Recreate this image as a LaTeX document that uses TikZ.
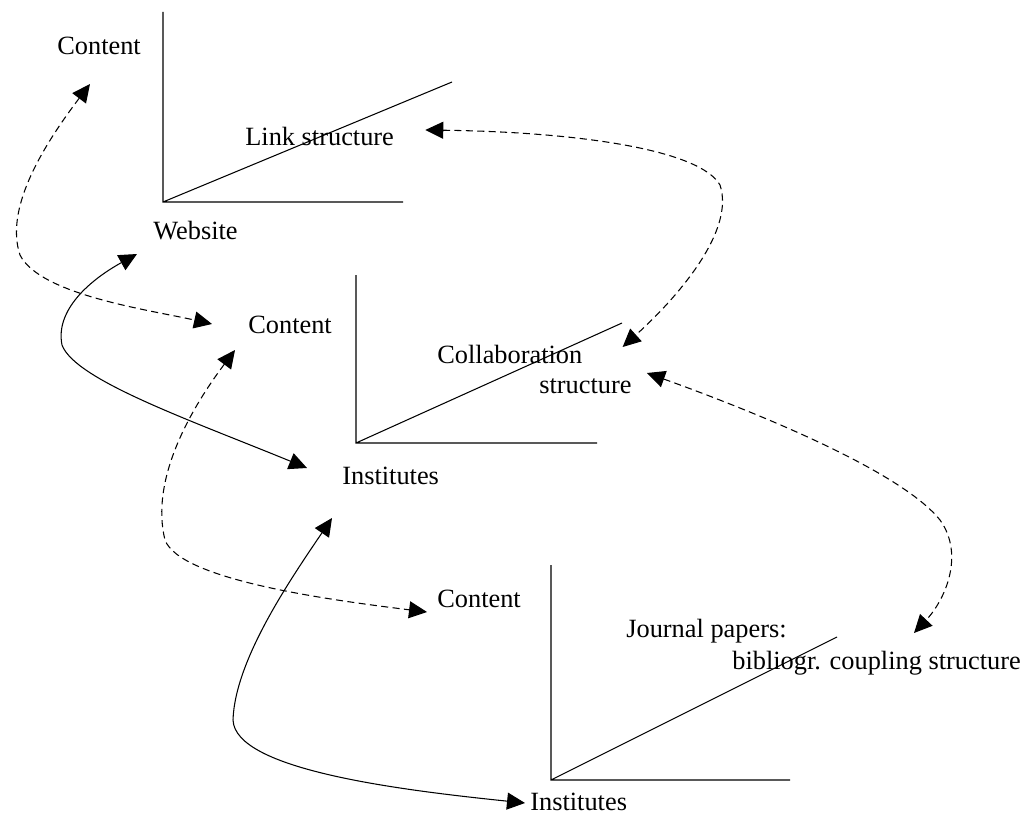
\documentclass[tikz,border=0pt]{standalone}
\usepackage{fontspec}
\setmainfont{Liberation Serif}
\usetikzlibrary{arrows.meta,calc}

\begin{document}
\begin{tikzpicture}[
  x=0.02cm, y=-0.02cm,
  >={Triangle[length=3.6mm,width=3.4mm]},
  lbl/.style={anchor=base west, inner sep=0pt, font=\fontsize{15}{18}\selectfont},
  axis/.style={line width=0.6pt},
  con/.style={<->, line width=0.6pt},
  dcon/.style={con, dash pattern=on 4pt off 2.5pt},
]
\useasboundingbox (0,0) rectangle (1026,814);

% three coordinate frames: origin x/y, top of vertical, end of horizontal, end of diagonal
\foreach \ox/\oy/\top/\right/\dx/\dy in {163/202/12/403/452/82,
                                          356/443/275/597/622/323,
                                          551/780/565/790/837/637}
  \draw[axis] (\ox,\top) -- (\ox,\oy) -- (\right,\oy) (\ox,\oy) -- (\dx,\dy);

\node[lbl] (ctop) at (57,55) {Content};
\node[lbl] (link) at (245,146) {Link structure};
\node[lbl] (web) at (153,239) {Website};
\node[lbl] (cmid) at (248,333) {Content};
\node[lbl] (collab) at (437,363) {Collaboration};
\node[lbl] (struct) at (539,393) {structure};
\node[lbl] (imid) at (342,484) {Institutes};
\node[lbl] (cbot) at (437,607) {Content};
\node[lbl] (journal) at (626,637) {Journal papers:};
\node[lbl] (biblio) at (732,669) {bibliogr. coupling structure};
\node[lbl] (ibot) at (530,810) {Institutes};

\draw[dcon] ($(ctop.base west)+(33,29)$) .. controls (40,150) and (5,210) .. (20,255)
  .. controls (40,295) and (150,310) .. ($(cmid.base west)+(-36,-9)$);
\draw[con] ($(web.base west)+(-16,15)$) .. controls (90,280) and (55,310) .. (62,345)
  .. controls (75,380) and (190,420) .. ($(imid.base west)+(-35,-16)$);
\draw[dcon] ($(link.base east)+(31,-16)$) .. controls (580,132) and (700,150) .. (720,185)
  .. controls (735,230) and (680,295) .. ($(collab.base east)+(40,-16)$);
\draw[dcon] ($(cmid.base west)+(-13,17)$) .. controls (190,410) and (150,480) .. (165,540)
  .. controls (180,580) and (330,600) .. ($(cbot.base west)+(-10,5)$);
\draw[dcon] ($(struct.base east)+(15,-20)$) .. controls (750,410) and (900,470) .. (940,520)
  .. controls (965,555) and (945,600) .. ($(journal.base east)+(127,-4)$);
\draw[con] ($(imid.base west)+(-10,34)$) .. controls (290,580) and (235,660) .. (233,720)
  .. controls (235,770) and (400,790) .. ($(ibot.base west)+(-5,-7)$);
\end{tikzpicture}
\end{document}
